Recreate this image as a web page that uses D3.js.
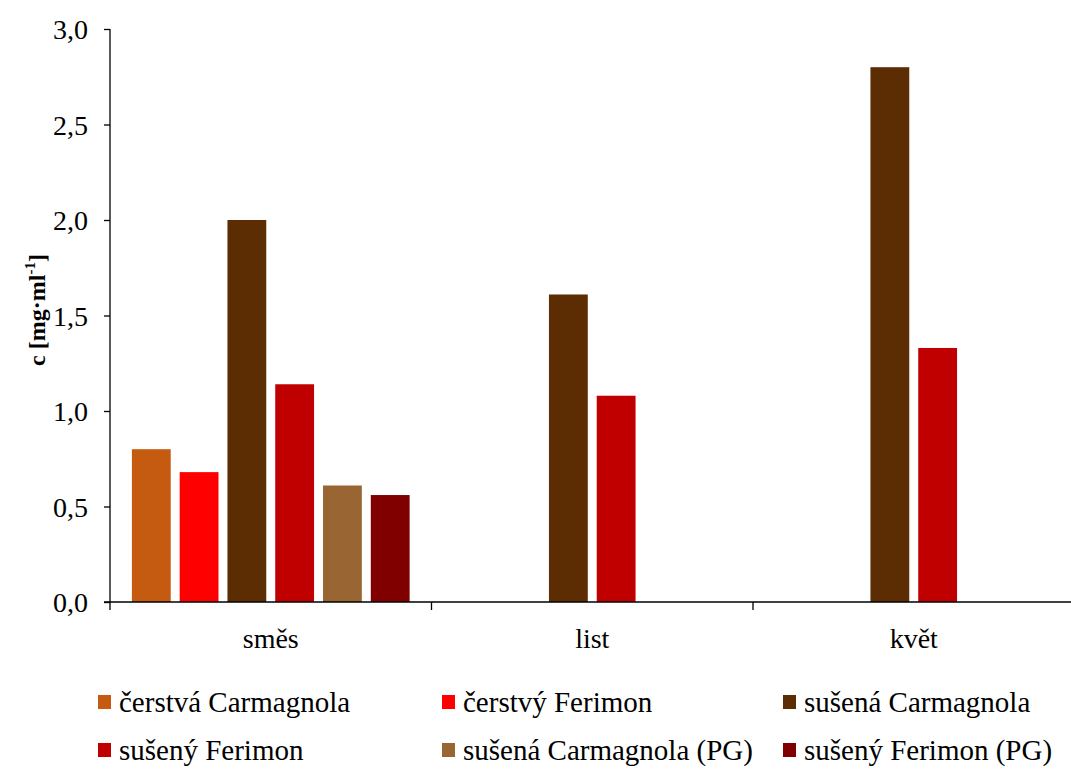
<!DOCTYPE html>
<html>
<head>
<meta charset="utf-8">
<script src="https://cdn.jsdelivr.net/npm/d3@7"></script>
<style>
html,body{margin:0;padding:0;background:#fff;}
svg{display:block;font-family:"Liberation Serif","Times New Roman",serif;}
</style>
</head>
<body>
<svg id="chart" width="1071" height="769"></svg>
<script>
const categories = ["směs", "list", "květ"];
const seriesNames = ["čerstvá Carmagnola", "čerstvý Ferimon", "sušená Carmagnola", "sušený Ferimon", "sušená Carmagnola (PG)", "sušený Ferimon (PG)"];
const seriesColors = ["#C55A11", "#FF0000", "#5C2C03", "#C00000", "#996633", "#800000"];
const cerstvaCarmagnola = [0.80, null, null];
const cerstvyFerimon = [0.68, null, null];
const susenaCarmagnola = [2.00, 1.61, 2.80];
const susenyFerimon = [1.14, 1.08, 1.33];
const susenaCarmagnolaPG = [0.61, null, null];
const susenyFerimonPG = [0.56, null, null];
const yTicks = [0, 0.5, 1.0, 1.5, 2.0, 2.5, 3.0];

const seriesValues = [cerstvaCarmagnola, cerstvyFerimon, susenaCarmagnola, susenyFerimon, susenaCarmagnolaPG, susenyFerimonPG];

const svg = d3.select("#chart");
const mLeft = 110, mRight = 1074.5, mTop = 29, mBottom = 602;

const x0 = d3.scaleBand().domain(categories).range([mLeft, mRight]).padding(0);
const x1 = d3.scaleBand().domain(seriesNames).range([0, x0.bandwidth()]).paddingInner(0.1875).paddingOuter(0.458);
const y = d3.scaleLinear().domain([0, 3]).range([mBottom, mTop]);

// bars
const g = svg.append("g");
categories.forEach((c, ci) => {
  seriesNames.forEach((s, si) => {
    const v = seriesValues[si][ci];
    if (v == null) return;
    g.append("rect")
      .attr("x", x0(c) + x1(s))
      .attr("y", y(v))
      .attr("width", x1.bandwidth())
      .attr("height", y(0) - y(v))
      .attr("fill", seriesColors[si]);
  });
});

// y axis
const fmt = d => d.toFixed(1).replace(".", ",");
const yAxis = d3.axisLeft(y).tickValues(yTicks).tickFormat(fmt).tickSize(6).tickPadding(16);
const ya = svg.append("g").attr("transform", `translate(${mLeft},0)`).call(yAxis);
ya.attr("font-family", "Liberation Serif");
ya.select(".domain").attr("d", `M0,${mTop}V${mBottom + 8}`).attr("stroke", "#000").attr("stroke-width", 1.3);
ya.selectAll(".tick line").attr("stroke", "#000").attr("stroke-width", 1.3);
ya.selectAll(".tick text").attr("font-family", "Liberation Serif").attr("font-size", 28).attr("fill", "#000").attr("dy", "0.34em");

// x axis
const xa = svg.append("g").attr("transform", `translate(0,${mBottom})`);
xa.append("line").attr("x1", mLeft - 6).attr("x2", 1071).attr("y1", 0).attr("y2", 0).attr("stroke", "#000").attr("stroke-width", 1.3);
categories.forEach((c, i) => {
  if (i > 0) {
    xa.append("line").attr("x1", x0(c)).attr("x2", x0(c)).attr("y1", 0).attr("y2", 8).attr("stroke", "#000").attr("stroke-width", 1.3);
  }
  xa.append("text").attr("x", x0(c) + x0.bandwidth() / 2).attr("y", 46)
    .attr("text-anchor", "middle").attr("font-size", 28).attr("fill", "#000").text(c);
});

// y title
const yt = svg.append("text").attr("transform", "translate(45,310) rotate(-90)")
  .attr("text-anchor", "middle").attr("font-size", 24).attr("font-weight", "bold").attr("fill", "#000");
yt.append("tspan").text("c [mg·ml");
yt.append("tspan").attr("font-size", 15).attr("dy", -10).text("-1");
yt.append("tspan").attr("dy", 10).text("]");

// legend
const legX = [98, 442, 783];
const legY = [712, 760];
seriesNames.forEach((s, i) => {
  const col = i % 3, row = Math.floor(i / 3);
  const lg = svg.append("g").attr("transform", `translate(${legX[col]},${legY[row]})`);
  lg.append("rect").attr("x", 0).attr("y", -17).attr("width", 13).attr("height", 14).attr("fill", seriesColors[i]);
  lg.append("text").attr("x", 21).attr("y", 0).attr("font-size", 29).attr("fill", "#000").text(s);
});
</script>
</body>
</html>
